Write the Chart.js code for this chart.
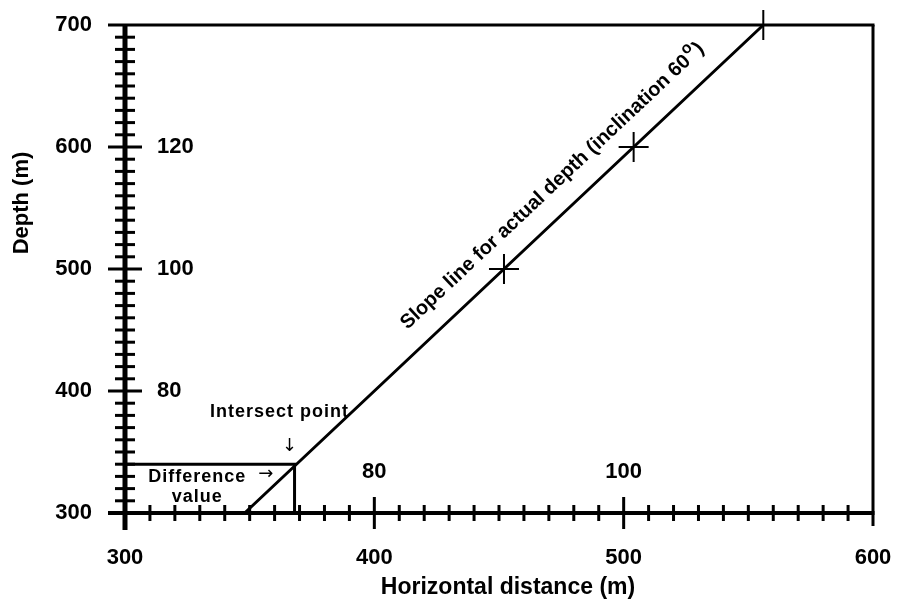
<!DOCTYPE html>
<html>
<head>
<meta charset="utf-8">
<script src="https://cdn.jsdelivr.net/npm/chart.js@4"></script>
<style>
  html, body { margin: 0; padding: 0; background: #fff; }
  #box { width: 898px; height: 602px; }
</style>
</head>
<body>
<div id="box"><canvas id="graph"></canvas></div>
<script>
// slope line for actual depth (inclination 60)
const slopeX = [348, 452, 504, 556]
const slopeDepth = [300, 500, 600, 700]
const slopeMarker = [0, 15, 15, 15]

// difference value box, up to the intersect point
const intersectX = [300, 368, 368]
const intersectDepth = [340, 340, 300]

// axis labels
const depthTicks = [300, 400, 500, 600, 700]
const distanceTicks = [300, 400, 500, 600]
const minorStep = 10
const xTitle = 'Horizontal distance (m)'
const yTitle = 'Depth (m)'

// second scale written inside the axes
const depthInnerAt = [400, 500, 600]
const depthInnerLabels = ['80', '100', '120']
const distanceInnerAt = [400, 500]
const distanceInnerLabels = ['80', '100']

const FONT = '"Liberation Sans", Arial, sans-serif'

const graph = document.getElementById('graph').getContext('2d')

function line(ctx, x1, y1, x2, y2, w) {
    ctx.lineWidth = w
    ctx.beginPath()
    ctx.moveTo(x1, y1)
    ctx.lineTo(x2, y2)
    ctx.stroke()
}

function noPad(s) {
    s.paddingLeft = 0
    s.paddingRight = 0
    s.paddingTop = 0
    s.paddingBottom = 0
}

const ruler = {
    id: 'ruler',
    afterDraw(chart) {
        const { ctx, chartArea: a, scales: { x, y } } = chart
        ctx.save()
        ctx.strokeStyle = '#000'
        ctx.fillStyle = '#000'

        // frame
        line(ctx, a.left - 17, a.top, a.right + 1.5, a.top, 3)
        line(ctx, a.right, a.top, a.right, a.bottom + 13, 3)

        // ruler ticks
        const yMin = depthTicks[0], yMax = depthTicks[depthTicks.length - 1]
        for (let v = yMin + minorStep; v < yMax; v += minorStep) {
            const py = y.getPixelForValue(v)
            const len = v % 100 === 0 ? 17 : 10
            line(ctx, a.left - len, py, a.left + len, py, 3)
        }
        const xMin = distanceTicks[0], xMax = distanceTicks[distanceTicks.length - 1]
        for (let v = xMin + minorStep; v < xMax; v += minorStep) {
            const px = x.getPixelForValue(v)
            const len = v % 100 === 0 ? 16 : 8
            line(ctx, px, a.bottom - len, px, a.bottom + len, 3)
        }
        line(ctx, a.left, a.top, a.left, a.bottom + 17, 5)
        line(ctx, a.left - 17, a.bottom, a.right + 1.5, a.bottom, 4)

        // axis titles
        ctx.textAlign = 'center'
        ctx.textBaseline = 'middle'
        ctx.font = 'bold 23px ' + FONT
        ctx.fillText(xTitle, (a.left + a.right) / 2 + 9, a.bottom + 75)
        ctx.save()
        ctx.translate(22, a.top + 178)
        ctx.rotate(-Math.PI / 2)
        ctx.font = 'bold 22px ' + FONT
        ctx.fillText(yTitle, 0, 0)
        ctx.restore()

        // inner scale labels
        ctx.font = 'bold 22px ' + FONT
        ctx.textAlign = 'left'
        depthInnerAt.forEach((v, i) => {
            ctx.fillText(depthInnerLabels[i], a.left + 32, y.getPixelForValue(v))
        })
        ctx.textAlign = 'center'
        distanceInnerAt.forEach((v, i) => {
            ctx.fillText(distanceInnerLabels[i], x.getPixelForValue(v), a.bottom - 41)
        })

        // notes
        ctx.letterSpacing = '1px'
        ctx.font = 'bold 18px ' + FONT
        ctx.fillText('Intersect point', x.getPixelForValue(362), y.getPixelForValue(383))
        ctx.fillText('Difference', x.getPixelForValue(329), y.getPixelForValue(329.5))
        ctx.fillText('value', x.getPixelForValue(329), y.getPixelForValue(313))
        ctx.letterSpacing = '0px'
        ctx.font = '18px "DejaVu Sans", sans-serif'
        ctx.fillText('\u2193', x.getPixelForValue(366), y.getPixelForValue(355))
        ctx.fillText('\u2192', x.getPixelForValue(356.5), y.getPixelForValue(332))

        // slope label, rotated along the line
        const p0x = x.getPixelForValue(slopeX[0]), p0y = y.getPixelForValue(slopeDepth[0])
        const n = slopeX.length - 1
        const p1x = x.getPixelForValue(slopeX[n]), p1y = y.getPixelForValue(slopeDepth[n])
        const ang = Math.atan2(p1y - p0y, p1x - p0x)
        ctx.translate(x.getPixelForValue(471), y.getPixelForValue(569))
        ctx.rotate(ang)
        const main = 'Slope line for actual depth (inclination 60'
        ctx.font = 'bold 20px ' + FONT
        const w1 = ctx.measureText(main).width
        const w3 = ctx.measureText(')').width
        ctx.font = 'bold 16px ' + FONT
        const w2 = ctx.measureText('o').width + 2
        const start = -(w1 + w2 + w3) / 2
        ctx.textAlign = 'left'
        ctx.textBaseline = 'alphabetic'
        ctx.font = 'bold 20px ' + FONT
        ctx.fillText(main, start, 7)
        ctx.fillText(')', start + w1 + w2, 7)
        ctx.font = 'bold 16px ' + FONT
        ctx.fillText('o', start + w1 + 1, -2)

        ctx.restore()
    }
}

const data = {
    datasets: [
        {
            label: 'Slope line',
            data: slopeX.map((v, i) => ({ x: v, y: slopeDepth[i] })),
            showLine: true,
            borderColor: '#000',
            borderWidth: 3,
            pointStyle: 'cross',
            pointRadius: slopeMarker,
            pointBorderColor: '#000',
            pointBorderWidth: 2,
            clip: false,
        },
        {
            label: 'Intersect',
            data: intersectX.map((v, i) => ({ x: v, y: intersectDepth[i] })),
            showLine: true,
            borderColor: '#000',
            borderWidth: 3,
            pointRadius: 0,
        },
    ],
}

const config = {
    type: 'scatter',
    data: data,
    options: {
        responsive: true,
        maintainAspectRatio: false,
        animation: false,
        layout: { padding: { top: 25, right: 25, left: 0, bottom: 0 } },
        plugins: {
            legend: { display: false },
            tooltip: { enabled: false },
        },
        scales: {
            x: {
                type: 'linear',
                min: distanceTicks[0],
                max: distanceTicks[distanceTicks.length - 1],
                afterBuildTicks: s => { s.ticks = distanceTicks.map(v => ({ value: v })) },
                afterFit: s => { s.height = 89; noPad(s) },
                grid: { display: false, drawTicks: false },
                border: { display: false },
                ticks: {
                    color: '#000',
                    padding: 32,
                    maxRotation: 0,
                    font: { family: FONT, size: 22, weight: 'bold' },
                },
            },
            y: {
                type: 'linear',
                min: depthTicks[0],
                max: depthTicks[depthTicks.length - 1],
                afterBuildTicks: s => { s.ticks = depthTicks.map(v => ({ value: v })) },
                afterFit: s => { s.width = 125; noPad(s) },
                grid: { display: false, drawTicks: false },
                border: { display: false },
                ticks: {
                    color: '#000',
                    padding: 33,
                    font: { family: FONT, size: 22, weight: 'bold' },
                },
            },
        },
    },
    plugins: [ruler],
}

let myChart = new Chart(graph, config)
</script>
</body>
</html>
